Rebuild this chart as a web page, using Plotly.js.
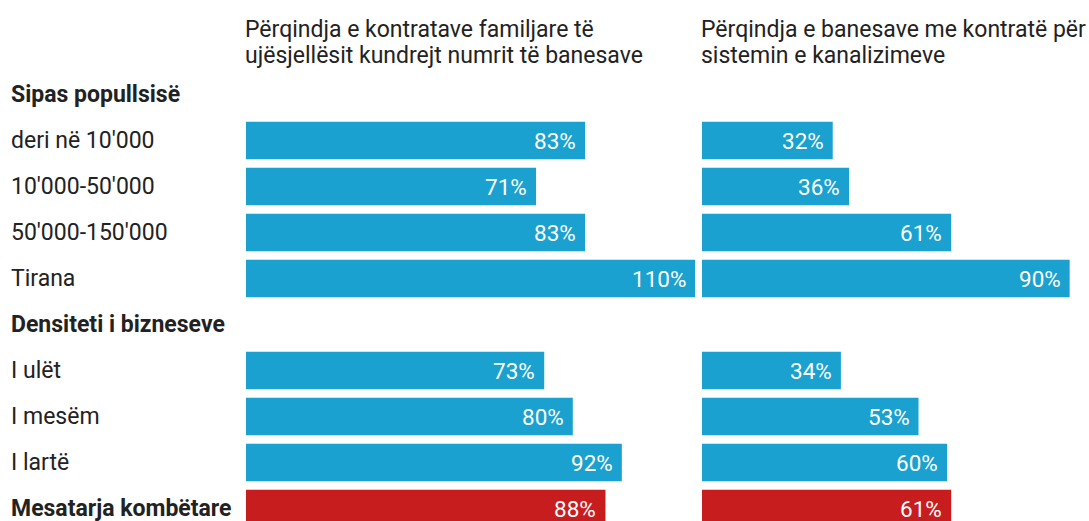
<!DOCTYPE html>
<html>
<head>
<meta charset="utf-8">
<script src="https://cdn.plot.ly/plotly-3.0.1.min.js"></script>
<style>html,body{margin:0;padding:0;background:#fff;}#chart{width:1089px;height:521px;}</style>
</head>
<body>
<div id="chart"></div>
<script>
var categories = ["Sipas popullsisë", "deri në 10'000", "10'000-50'000", "50'000-150'000", "Tirana",
  "Densiteti i bizneseve", "I ulët", "I mesëm", "I lartë", "Mesatarja kombëtare"];
var headerRows = ["Sipas popullsisë", "Densiteti i bizneseve", "Mesatarja kombëtare"];
var waterContracts = [null, 83, 71, 83, 110, null, 73, 80, 92, 88];
var sewerContracts = [null, 32, 36, 61, 90, null, 34, 53, 60, 61];
var titleLeftLines = ["Përqindja e kontratave familjare të", "ujësjellësit kundrejt numrit të banesave"];
var titleRightLines = ["Përqindja e banesave me kontratë për", "sistemin e kanalizimeve"];

var W = 1089, H = 521;
var BLUE = "#1aa1cf", RED = "#c81d1e", TXT = "#222222";
var FONT = "Roboto, 'Open Sans', sans-serif";
var FS = 23, FSV = 22.5;

var colors = categories.map(function (c) { return c === "Mesatarja kombëtare" ? RED : BLUE; });
var yIdx = categories.map(function (c, i) { return i; });

var pxPerPct = 4.085;
var leftStart = 246, rightStart = 702;

var traces = [
  { type: "bar", orientation: "h", y: yIdx, x: waterContracts, xaxis: "x", yaxis: "y",
    marker: { color: colors }, hoverinfo: "skip" },
  { type: "bar", orientation: "h", y: yIdx, x: sewerContracts, xaxis: "x2", yaxis: "y",
    marker: { color: colors }, hoverinfo: "skip" }
];

var annotations = [];
categories.forEach(function (c, i) {
  var bold = headerRows.indexOf(c) >= 0;
  annotations.push({ xref: "paper", yref: "y", x: 9 / W, y: i, xanchor: "left", yanchor: "middle",
    text: bold ? "<b>" + c + "</b>" : c, showarrow: false,
    font: { family: FONT, size: FS, color: TXT } });
  [[waterContracts, "x"], [sewerContracts, "x2"]].forEach(function (p) {
    var v = p[0][i];
    if (v === null) return;
    annotations.push({ xref: p[1], yref: "y", x: v, y: i, xanchor: "right", yanchor: "middle",
      xshift: -7, text: v + "%", showarrow: false,
      font: { family: FONT, size: FSV, color: "#ffffff" } });
  });
});
var lineTops = [13.5, 40];
[[titleLeftLines, leftStart], [titleRightLines, rightStart]].forEach(function (t) {
  t[0].forEach(function (line, k) {
    annotations.push({ xref: "paper", yref: "paper", x: (t[1] - 3) / W, y: 1 - lineTops[k] / H,
      xanchor: "left", yanchor: "top", align: "left", text: line, showarrow: false,
      font: { family: FONT, size: FS, color: TXT } });
  });
});

var rowPx = 46.0, row0 = 94.5;
var yTop = -row0 / rowPx, yBot = (H - row0) / rowPx;

var layout = {
  width: W, height: H,
  margin: { l: 0, r: 0, t: 0, b: 0, pad: 0 },
  paper_bgcolor: "#ffffff", plot_bgcolor: "#ffffff",
  showlegend: false, bargap: 0.19,
  font: { family: FONT },
  xaxis: { domain: [leftStart / W, (leftStart + 110 * pxPerPct) / W], range: [0, 110],
    visible: false, fixedrange: true },
  xaxis2: { domain: [rightStart / W, 1], range: [0, (W - rightStart) / pxPerPct],
    visible: false, fixedrange: true },
  yaxis: { range: [yBot, yTop], visible: false, fixedrange: true },
  annotations: annotations
};

Plotly.newPlot("chart", traces, layout, { staticPlot: true, displayModeBar: false });
</script>
</body>
</html>
